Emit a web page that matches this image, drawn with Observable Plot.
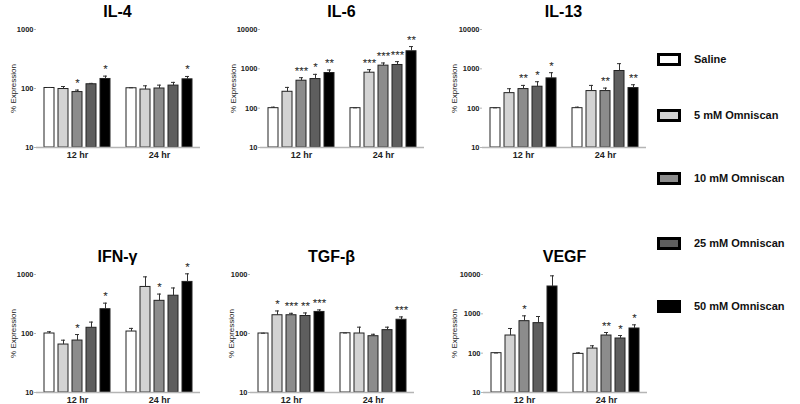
<!DOCTYPE html>
<html>
<head>
<meta charset="utf-8">
<script src="https://cdn.jsdelivr.net/npm/d3@7"></script>
<script src="https://cdn.jsdelivr.net/npm/@observablehq/plot@0.6"></script>
<style>
  html, body { margin: 0; padding: 0; background: #fff; }
  #root { position: relative; width: 800px; height: 404px; overflow: hidden; font-family: "Liberation Sans", Arial, sans-serif; }
  .panel { position: absolute; }
  .title { position: absolute; font-weight: bold; font-size: 16px; line-height: 16px; text-align: center; width: 165px; color: #000; }
  .leg-box { position: absolute; width: 18px; height: 7px; border: 3px solid #000; }
  .leg-text { position: absolute; font-weight: bold; font-size: 11px; line-height: 12px; color: #111; white-space: nowrap; }
</style>
</head>
<body>
<div id="root"></div>
<script>
const groups = ["Saline", "5 mM Omniscan", "10 mM Omniscan", "25 mM Omniscan", "50 mM Omniscan"];
const times = ["12 hr", "24 hr"];
const panelNames = ["IL-4", "IL-6", "IL-13", "IFN-γ", "TGF-β", "VEGF"];
const panelMax = [1000, 10000, 10000, 1000, 1000, 10000];

// IL-4
const il4Mean12 = [102, 98, 87, 118, 145];
const il4Upper12 = [104, 108, 94, 122, 162];
const il4Sig12 = ["", "", "*", "", "*"];
const il4Mean24 = [101, 96, 100, 112, 143];
const il4Upper24 = [103, 111, 114, 127, 160];
const il4Sig24 = ["", "", "", "", "*"];

// IL-6
const il6Mean12 = [100, 261, 499, 550, 783];
const il6Upper12 = [106, 337, 595, 724, 934];
const il6Sig12 = ["", "", "***", "*", "**"];
const il6Mean24 = [100, 798, 1205, 1253, 2798];
const il6Upper24 = [102, 952, 1409, 1524, 3681];
const il6Sig24 = ["", "***", "***", "***", "**"];

// IL-13
const il13Mean12 = [100, 241, 306, 351, 572];
const il13Upper12 = [102, 312, 379, 470, 798];
const il13Sig12 = ["", "", "**", "*", "*"];
const il13Mean24 = [100, 272, 272, 881, 324];
const il13Upper24 = [106, 379, 324, 1355, 394];
const il13Sig24 = ["", "", "**", "", "**"];

// IFN-γ
const ifnMean12 = [100, 65, 76, 125, 258];
const ifnUpper12 = [107, 77, 96, 156, 327];
const ifnSig12 = ["", "", "*", "", "*"];
const ifnMean24 = [108, 615, 358, 437, 749];
const ifnUpper24 = [122, 912, 466, 591, 1026];
const ifnSig24 = ["", "", "*", "", "*"];

// TGF-β
const tgfMean12 = [100, 204, 204, 198, 232];
const tgfUpper12 = [101, 241, 220, 223, 251];
const tgfSig12 = ["", "*", "***", "**", "***"];
const tgfMean24 = [101, 100, 90, 114, 171];
const tgfUpper24 = [102, 128, 97, 128, 191];
const tgfSig24 = ["", "", "", "", "***"];

// VEGF
const vegfMean12 = [100, 281, 651, 580, 4955];
const vegfUpper12 = [101, 424, 889, 855, 9245];
const vegfSig12 = ["", "", "*", "", ""];
const vegfMean24 = [96, 131, 281, 236, 424];
const vegfUpper24 = [102, 154, 335, 281, 525];
const vegfSig24 = ["", "", "**", "*", "*"];

const panelSeries = [
  [[il4Mean12, il4Upper12, il4Sig12], [il4Mean24, il4Upper24, il4Sig24]],
  [[il6Mean12, il6Upper12, il6Sig12], [il6Mean24, il6Upper24, il6Sig24]],
  [[il13Mean12, il13Upper12, il13Sig12], [il13Mean24, il13Upper24, il13Sig24]],
  [[ifnMean12, ifnUpper12, ifnSig12], [ifnMean24, ifnUpper24, ifnSig24]],
  [[tgfMean12, tgfUpper12, tgfSig12], [tgfMean24, tgfUpper24, tgfSig24]],
  [[vegfMean12, vegfUpper12, vegfSig12], [vegfMean24, vegfUpper24, vegfSig24]]
];

const colors = ["#ffffff", "#d3d3d3", "#8c8c8c", "#5e5e5e", "#000000"];

// layout (pixel positions of each panel's y axis and plot top)
const layout = [
  {axisX: 35, top: 29, labelOffset: 23},
  {axisX: 259, top: 29, labelOffset: 27},
  {axisX: 481, top: 29, labelOffset: 28},
  {axisX: 35, top: 274, labelOffset: 23},
  {axisX: 249, top: 274, labelOffset: 19},
  {axisX: 482, top: 274, labelOffset: 29}
];

const root = document.getElementById("root");
const ML = 35, MR = 3, MT = 14, MB = 18, PW = 165, PH = 118;

panelNames.forEach((name, p) => {
  const rows = [];
  times.forEach((t, ti) => {
    const [m, u, s] = panelSeries[p][ti];
    groups.forEach((g, i) => rows.push({time: t, group: g, mean: m[i], upper: u[i], sig: s[i]}));
  });
  const ticks = panelMax[p] === 10000 ? [10, 100, 1000, 10000] : [10, 100, 1000];
  const chart = Plot.plot({
    width: ML + PW + MR,
    height: MT + PH + MB,
    marginLeft: ML, marginRight: MR, marginTop: MT, marginBottom: MB,
    style: {fontFamily: "'Liberation Sans', Arial, sans-serif", background: "transparent", overflow: "visible", color: "#111"},
    fx: {domain: times, padding: 0},
    x: {domain: groups, paddingInner: 0.31, paddingOuter: 0.5, axis: null},
    y: {type: "log", domain: [10, panelMax[p]]},
    color: {domain: groups, range: colors},
    marks: [
      Plot.barY(rows, {fx: "time", x: "group", y1: 10, y2: "mean", fill: "group", stroke: "#222", strokeWidth: 1}),
      Plot.ruleX(rows, {fx: "time", x: "group", y1: "mean", y2: "upper", stroke: "#333", strokeWidth: 1}),
      Plot.tickY(rows, {fx: "time", x: "group", y: "upper", stroke: "#333", strokeWidth: 1, insetLeft: 3, insetRight: 3}),
      Plot.text(rows, {fx: "time", x: "group", y: "upper", text: "sig", dy: -3, lineAnchor: "bottom", fontSize: 11.5, fill: "#222"}),
      Plot.ruleY([10], {stroke: "#b5b5b5", strokeWidth: 1.5}),
      Plot.axisY({ticks, tickFormat: d => String(d), tickSize: 2, tickPadding: 1, fontSize: 7.5, fontWeight: "bold", line: true, stroke: "#b5b5b5", fill: "#222", label: null}),
      Plot.axisFx({anchor: "bottom", tickSize: 0, tickPadding: 4, fontSize: 9, fontWeight: "bold", fill: "#222", label: null}),
      Plot.text([{time: "12 hr"}], {fx: "time", text: () => "% Expression", frameAnchor: "left", rotate: -90, dx: -layout[p].labelOffset, lineAnchor: "middle", textAnchor: "middle", fontSize: 8, fill: "#222"})
    ]
  });
  const wrap = document.createElement("div");
  wrap.className = "panel";
  wrap.style.left = (layout[p].axisX - ML) + "px";
  wrap.style.top = (layout[p].top - MT) + "px";
  wrap.appendChild(chart);
  root.appendChild(wrap);

  const title = document.createElement("div");
  title.className = "title";
  title.textContent = name;
  title.style.left = layout[p].axisX + "px";
  title.style.top = (layout[p].top < 100 ? 4 : 249) + "px";
  root.appendChild(title);
});

// legend
const legendY = [59, 115, 178, 243, 306];
groups.forEach((g, i) => {
  const box = document.createElement("div");
  box.className = "leg-box";
  box.style.left = "657px";
  box.style.top = (legendY[i] - 6.5) + "px";
  box.style.background = colors[i];
  root.appendChild(box);
  const t = document.createElement("div");
  t.className = "leg-text";
  t.style.left = "694px";
  t.style.top = (legendY[i] - 6) + "px";
  t.textContent = g;
  root.appendChild(t);
});
</script>
</body>
</html>
